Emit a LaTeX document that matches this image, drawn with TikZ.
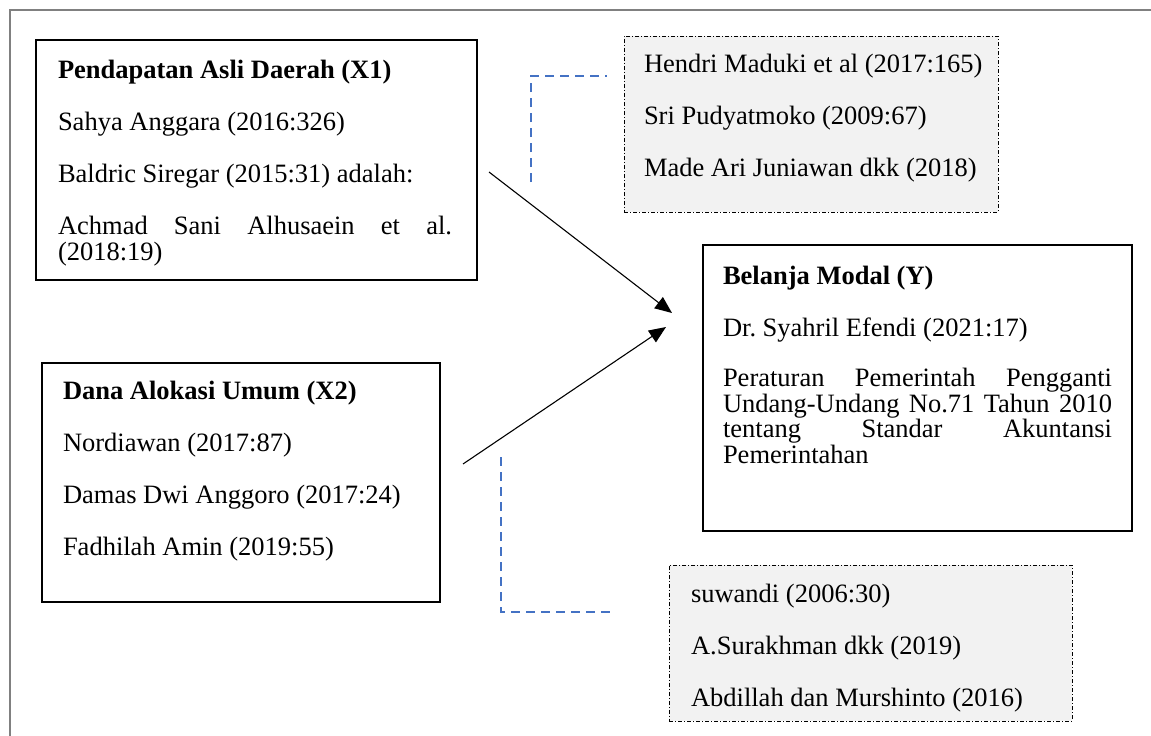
\documentclass[tikz,border=0pt]{standalone}
\usepackage{fontspec}
\setmainfont{Liberation Serif}
\usetikzlibrary{arrows.meta}
\definecolor{frameg}{HTML}{808080}
\definecolor{blueline}{HTML}{4472C4}
\definecolor{boxfill}{HTML}{F2F2F2}
\frenchspacing
\begin{document}
\begin{tikzpicture}[x=1pt,y=-1pt,
  every node/.style={font=\fontsize{26.5}{26}\selectfont, inner sep=0pt, outer sep=0pt},
  txt/.style={anchor=base west},
  ttl/.style={anchor=base west, font=\fontsize{26.5}{26}\selectfont\bfseries},
  thickbox/.style={draw, line width=2.5pt, anchor=north west},
  thinbox/.style={draw, line width=1.3pt, anchor=north west},
  refbox/.style={draw, fill=boxfill, line width=0.9pt, dash pattern=on 4pt off 2pt on 1pt off 2pt, anchor=north west},
  link/.style={blueline, line width=2.2pt, dash pattern=on 9pt off 6pt},
  arr/.style={line width=1.1pt, -{Triangle[length=17pt,width=14pt]}}]

\useasboundingbox (0,0) rectangle (1151,736);
\draw[frameg, line width=2.5pt] (10,736) -- (10,10) -- (1151,10);

% boxes
\node[thickbox, minimum width=441pt, minimum height=240pt] (x1) at (36,40) {};
\node[thickbox, minimum width=398pt, minimum height=239pt] (x2) at (42,363) {};
\node[thinbox, minimum width=429pt, minimum height=286pt] (y) at (703,245) {};
\node[refbox, minimum width=374pt, minimum height=176pt] (r1) at (624,36) {};
\node[refbox, minimum width=403pt, minimum height=156pt] (r2) at (669,565) {};

% X1 texts
\node[ttl] (x1t) at (58,78) {Pendapatan Asli Daerah (X1)};
\node[txt] (x1a) at (58,130) {Sahya Anggara (2016:326)};
\node[txt] (x1b) at (58,182) {Baldric Siregar (2015:31) adalah:};
\node[txt] (x1c) at (58,234) {\hbox to 394pt{Achmad\hfill Sani\hfill Alhusaein\hfill et\hfill al.}};
\node[txt] (x1d) at (58,260) {(2018:19)};

% X2 texts
\node[ttl] (x2t) at (63,399) {Dana Alokasi Umum (X2)};
\node[txt] (x2a) at (63,451) {Nordiawan (2017:87)};
\node[txt] (x2b) at (63,503) {Damas Dwi Anggoro (2017:24)};
\node[txt] (x2c) at (63,555) {Fadhilah Amin (2019:55)};

% Y texts
\node[ttl] (yt) at (723,284) {Belanja Modal (Y)};
\node[txt] (ya) at (723,336) {Dr. Syahril Efendi (2021:17)};
\node[txt] (yb) at (723,386) {\hbox to 389pt{Peraturan\hfill Pemerintah\hfill Pengganti}};
\node[txt] (yc) at (723,412) {\hbox to 389pt{Undang-Undang\hfill No.71\hfill Tahun\hfill 2010}};
\node[txt] (yd) at (723,437) {\hbox to 389pt{tentang\hfill Standar\hfill Akuntansi}};
\node[txt] (ye) at (723,463) {Pemerintahan};

% reference box 1
\node[txt] (r1a) at (644,72) {Hendri Maduki et al (2017:165)};
\node[txt] (r1b) at (644,124) {Sri Pudyatmoko (2009:67)};
\node[txt] (r1c) at (644,176) {Made Ari Juniawan dkk (2018)};

% reference box 2
\node[txt] (r2a) at (691,602) {suwandi (2006:30)};
\node[txt] (r2b) at (691,654) {A.Surakhman dkk (2019)};
\node[txt] (r2c) at (691,706) {Abdillah dan Murshinto (2016)};

% arrows
\coordinate (a1s) at (489,172);
\coordinate (a1e) at (672,313);
\coordinate (a2s) at (463,464);
\coordinate (a2e) at (666,327);
\draw[arr] (a1s) -- (a1e);
\draw[arr] (a2s) -- (a2e);

% blue dashed links
\coordinate (l1a) at (531,182);
\coordinate (l1b) at (531,76);
\coordinate (l1c) at (607,76);
\draw[link] (l1a) -- (l1b) -- (l1c);
\coordinate (l2a) at (501,457);
\coordinate (l2b) at (501,612);
\coordinate (l2c) at (614,612);
\draw[link] (l2a) -- (l2b) -- (l2c);
\end{tikzpicture}
\end{document}
